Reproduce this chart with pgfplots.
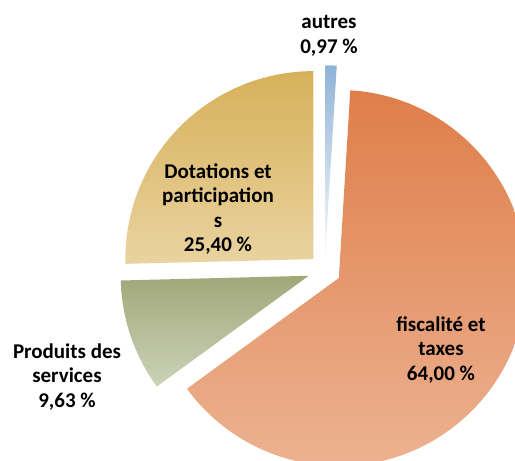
\documentclass[border=0pt]{standalone}
\usepackage{fontspec}
\setmainfont{Carlito}
\usepackage{pgfplots}
\usepackage{pgfplotstable}
\pgfplotsset{compat=1.18}

% slice colours: top and bottom of each gradient
\definecolor{top0}{RGB}{143,180,214}
\definecolor{bot0}{RGB}{245,248,252}
\definecolor{top1}{RGB}{223,126,74}
\definecolor{bot1}{RGB}{236,179,146}
\definecolor{top2}{RGB}{160,168,121}
\definecolor{bot2}{RGB}{204,210,184}
\definecolor{top3}{RGB}{215,177,90}
\definecolor{bot3}{RGB}{233,211,160}

\pgfplotstableread[col sep=comma]{
label,value,explode
autres,0.97,17
fiscalite,64.00,16
produits,9.63,17
dotations,25.40,16
}\piedata

\begin{document}
\begin{tikzpicture}
\path[use as bounding box] (0,0) rectangle (515pt,461pt);
\clip (0,0) rectangle (515pt,461pt);
\begin{axis}[
    at={(0,0)}, anchor=south west,
    width=515pt, height=461pt,
    scale only axis,
    xmin=0, xmax=515,
    ymin=0, ymax=461,
    hide axis,
    clip=false,
]
\def\cx{324.8}
\def\cy{190.7}
\def\rad{188pt}
\def\angstart{90}
\pgfplotsforeachungrouped \i in {0,...,3}{
    \pgfplotstablegetelem{\i}{value}\of\piedata
    \let\val\pgfplotsretval
    \pgfplotstablegetelem{\i}{explode}\of\piedata
    \let\ex\pgfplotsretval
    \pgfmathsetmacro\angend{\angstart-\val*3.6}
    \pgfmathsetmacro\angmid{(\angstart+\angend)/2}
    \pgfmathsetmacro\px{\cx+\ex*cos(\angmid)}
    \pgfmathsetmacro\py{\cy+\ex*sin(\angmid)}
    \edef\temp{\noexpand\shade[top color=top\i, bottom color=bot\i]
        (axis cs:\px,\py) -- ++(\angstart:\rad)
        arc[start angle=\angstart, end angle=\angend, radius=\rad] -- cycle;}
    \temp
    \let\angstart\angend
}

\tikzset{lbl/.style={align=center, font=\bfseries\fontsize{21}{24.5}\selectfont, inner sep=0pt}}
\node[lbl] at (axis cs:329,425) {autres\\0,97 \%};
\node[lbl] at (axis cs:218,252) {Dotations et\\participation\\s\\25,40 \%};
\node[lbl] at (axis cs:441,111) {fiscalité et\\taxes\\64,00 \%};
\node[lbl] at (axis cs:67,84) {Produits des\\services\\9,63 \%};
\end{axis}
\end{tikzpicture}
\end{document}
